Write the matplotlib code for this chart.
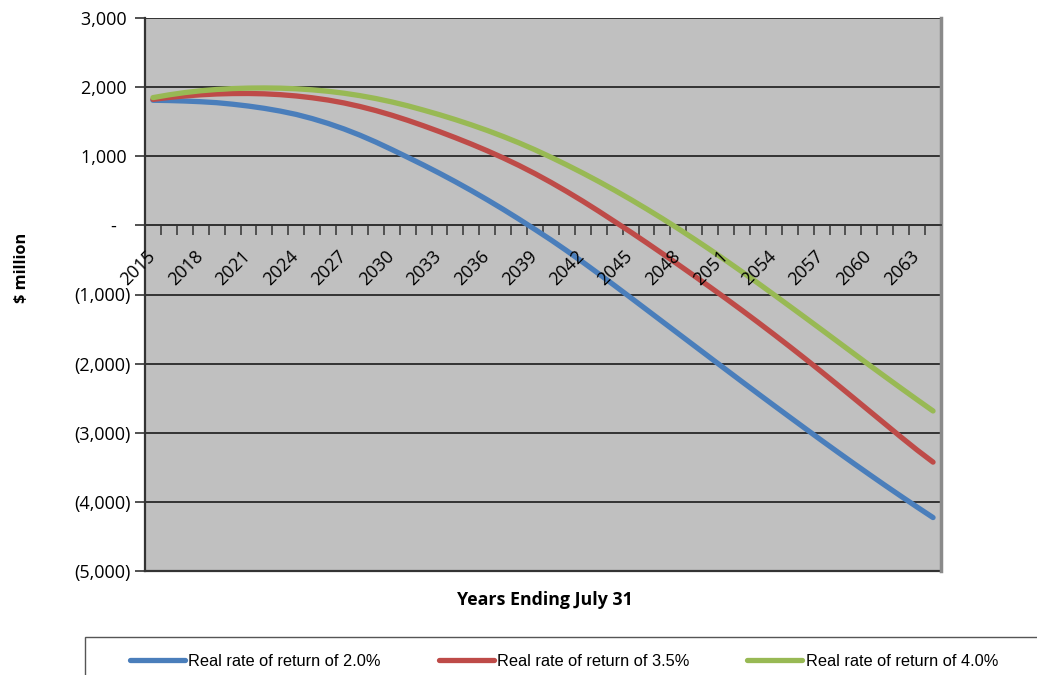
import matplotlib
matplotlib.use("Agg")
import matplotlib.pyplot as plt
import matplotlib.transforms as mtransforms
from matplotlib.patches import Rectangle
from matplotlib.ticker import FixedLocator, FuncFormatter, NullFormatter

# Projected balance, $ million, years ending July 31
years = list(range(2015, 2065))

rate_2_0 = [1810, 1806, 1799, 1789, 1775, 1753, 1726, 1693, 1653, 1605,
            1545, 1475, 1395, 1305, 1205, 1097, 985, 872, 754, 631,
            503, 370, 232, 89, -59, -210, -368, -532, -700, -871,
            -1044, -1218, -1392, -1566, -1740, -1914, -2088, -2261, -2433, -2604,
            -2774, -2943, -3111, -3277, -3441, -3603, -3763, -3920, -4075, -4227]

rate_3_5 = [1823, 1850, 1872, 1889, 1901, 1907, 1908, 1903, 1891, 1872,
            1846, 1813, 1771, 1720, 1661, 1594, 1520, 1440, 1356, 1268,
            1176, 1079, 976, 866, 748, 622, 489, 350, 205, 55,
            -95, -250, -408, -568, -730, -894, -1060, -1229, -1401, -1576,
            -1754, -1935, -2119, -2306, -2495, -2685, -2875, -3065, -3250, -3425]

rate_4_0 = [1848, 1888, 1921, 1947, 1966, 1979, 1986, 1988, 1985, 1976,
            1961, 1940, 1912, 1877, 1835, 1786, 1730, 1667, 1601, 1530,
            1454, 1373, 1286, 1193, 1093, 986, 874, 757, 635, 508,
            376, 239, 98, -48, -198, -352, -510, -671, -835, -1002,
            -1170, -1339, -1509, -1680, -1851, -2022, -2190, -2357, -2522, -2685]

series_labels = ["Real rate of return of 2.0%",
                 "Real rate of return of 3.5%",
                 "Real rate of return of 4.0%"]
series_colors = ["#4A7EBB", "#BE4B48", "#98B954"]

y_ticks = [3000, 2000, 1000, 0, -1000, -2000, -3000, -4000, -5000]
x_label_years = list(range(2015, 2064, 3))

plt.rcParams["font.family"] = ["Open Sans", "DejaVu Sans"]

fig = plt.figure(figsize=(10.37, 6.75), dpi=100)
ax = fig.add_axes([145 / 1037, 1 - 571 / 675, (941 - 145) / 1037, (571 - 18) / 675])
ax.set_facecolor("#C0C0C0")

for vals, lab, col in zip([rate_2_0, rate_3_5, rate_4_0], series_labels, series_colors):
    ax.plot(years, vals, color=col, lw=3.8, solid_capstyle="round",
            solid_joinstyle="round", label=lab, zorder=3)

ax.set_xlim(years[0] - 0.5, years[-1] + 0.5)
ax.set_ylim(-5000, 3000)

# horizontal gridlines
ax.set_yticks(y_ticks)
ax.yaxis.grid(True, color="#333333", lw=1.4, zorder=1)
ax.set_axisbelow(True)


def money(v, _pos):
    # accounting style: negatives in brackets, zero as a dash
    v = int(round(v))
    if v == 0:
        return "-   "
    if v < 0:
        return "({:,})".format(-v)
    return "{:,} ".format(v)


ax.yaxis.set_major_formatter(FuncFormatter(money))
ax.tick_params(axis="y", direction="out", length=7, width=1.2, color="#333333",
               labelsize=13, pad=3)

# category axis crosses at zero
ax.spines["bottom"].set_position(("data", 0))
ax.spines["bottom"].set_color("#333333")
ax.spines["bottom"].set_linewidth(1.3)
ax.spines["left"].set_color("#333333")
ax.spines["left"].set_linewidth(1.6)
ax.spines["right"].set_color("#8A8A8A")
ax.spines["right"].set_linewidth(2.5)
ax.spines["top"].set_visible(False)

boundaries = [y - 0.5 for y in years] + [years[-1] + 0.5]
ax.xaxis.set_major_locator(FixedLocator(boundaries))
ax.xaxis.set_major_formatter(NullFormatter())
ax.tick_params(axis="x", which="major", direction="out", length=7, width=1.1,
               color="#333333")

# rotated year labels hanging below the zero line
label_offset = mtransforms.ScaledTranslation(-7 / 100, -22 / 100, fig.dpi_scale_trans)
for yr in x_label_years:
    ax.text(yr, 0, str(yr), transform=ax.transData + label_offset,
            rotation=45, ha="right", va="top", rotation_mode="anchor",
            fontsize=13, zorder=4)

# bottom edge of the plot area
ax.axhline(-5000, color="#333333", lw=1.6, zorder=2, clip_on=False)

fig.text(22 / 1037, 1 - 268 / 675, "$ million", rotation=90, ha="center",
         va="center", fontsize=11.8, fontweight="bold")
fig.text(545 / 1037, 1 - 600 / 675, "Years Ending July 31", ha="center",
         va="center", fontsize=12.8, fontweight="bold")

# legend frame running off the lower right of the figure
fig.patches.append(Rectangle((85 / 1037, -0.05), 1.0, 0.05 + (675 - 637) / 675,
                             transform=fig.transFigure, fill=False,
                             edgecolor="#555555", lw=1.0))
handles, labels = ax.get_legend_handles_labels()
leg = fig.legend(handles, labels, loc="center left",
                 bbox_to_anchor=(130 / 1037, 1 - 661 / 675), ncol=3,
                 frameon=False, prop={"family": "Liberation Sans", "size": 11.75},
                 handlelength=3.37, handletextpad=0.2, columnspacing=3.55,
                 borderaxespad=0, borderpad=0)

fig.savefig("out.png", dpi=100)
